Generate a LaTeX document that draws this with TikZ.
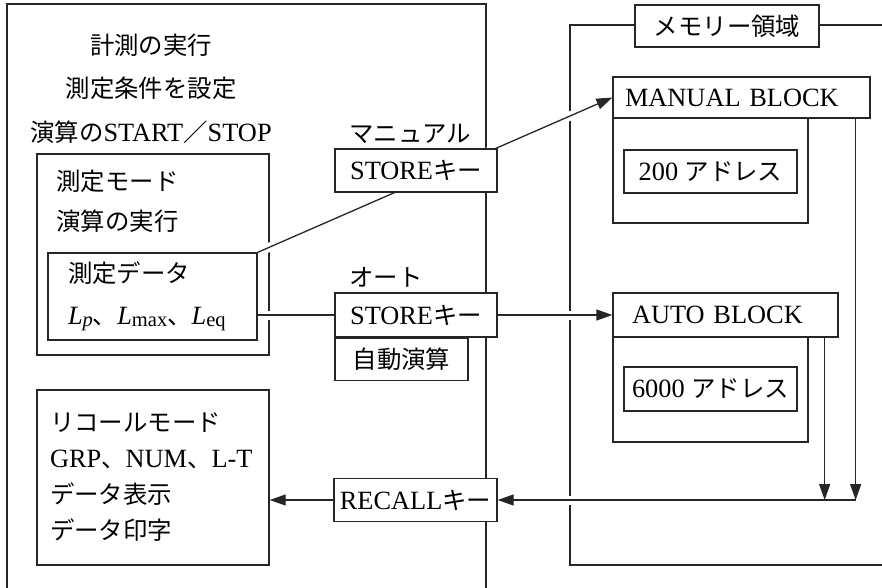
\documentclass[tikz,border=0pt]{standalone}
\usepackage{fontspec}
\setmainfont{Liberation Serif}[Scale=1.08]
\newfontfamily\jpfont{Noto Sans CJK JP}
\newcommand{\jp}[1]{{\jpfont #1}}
\newcommand{\Lsub}[1]{\textit{L}\raisebox{-1.5pt}{\fontsize{19}{19}\selectfont #1}}
\usetikzlibrary{positioning, arrows.meta, calc}

\begin{document}
\begin{tikzpicture}[
    x=1pt, y=-1pt,
    every node/.style={font=\fontsize{24.4}{29}\selectfont, inner sep=2pt},
    ln/.style={line width=1.3pt, draw=black!85},
    box/.style n args={2}{rectangle, ln, fill=white, minimum width=#1, minimum height=#2},
    arr/.style={-{Triangle[length=16pt, width=11pt]}, ln},
    hop/.style={preaction={draw=white, -, line width=9pt, shorten <=#1, shorten >=17pt}},
]
    \clip (0,0) rectangle (882,587);

    % frames
    \draw[ln] (7,4) rectangle (486,620);
    \draw[ln] (570,25) rectangle (920,565);
    \node[box={184}{42}] (memlbl) at (727,26) {\jp{メモリー領域}};

    % left panel
    \node (head1) at (151,45) {\jp{計測の実行}};
    \node (head2) at (151,88) {\jp{測定条件を設定}};
    \node (head3) at (151,132) {\jp{演算の}START\jp{／}STOP};
    \node[box={232}{201}] (modebox) at (153,254.5) {};
    \node[anchor=west] (modett) at ($(modebox.north west)+(18,28)$) {\jp{測定モード}};
    \node[anchor=west] (modecalc) at ($(modebox.north west)+(18,68)$) {\jp{演算の実行}};
    \node[box={209}{87}, text width=169pt, inner xsep=20pt, align=left,
          font=\fontsize{24.4}{42}\selectfont] (databox) at (152.5,296.5)
          {\jp{測定データ}\\\Lsub{\textit{p}}\jp{、}\Lsub{max}\jp{、}\Lsub{eq}};
    \node[box={232}{175}, text width=206pt, inner xsep=13pt, align=left,
          font=\fontsize{24.4}{36}\selectfont] (recallbox) at (153,477.5)
          {\jp{リコールモード}\\\mbox{GRP\jp{、}NUM\jp{、}L-T}\\\jp{データ表示}\\\jp{データ印字}};

    % memory blocks
    \node[box={195}{105}] (manbody) at (710.5,170.5) {};
    \node[box={173}{43}] (manaddr) at (710.5,171.5) {200 \jp{アドレス}};
    \node[box={257}{41}, text width=233pt, inner xsep=12pt, align=left] (manhead) at (741.5,97.5) {MANUAL BLOCK};
    \node[box={195}{105}] (autobody) at (710.5,389.5) {};
    \node[box={173}{44}] (autoaddr) at (710.5,389) {6000 \jp{アドレス}};
    \node[box={225}{44}, text width=187pt, inner xsep=19pt, align=left] (autohead) at (725.5,315) {AUTO BLOCK};

    % store paths
    \draw[arr, hop=6pt] (databox.north east) -- (manhead.west);
    \draw[arr, hop=6pt] (databox.east |- autohead.west) -- (autohead.west);

    % keys
    \node[box={162}{43}] (storeM) at (416,170.5) {STORE\jp{キー}};
    \node[anchor=south west, xshift=13pt, yshift=3pt] (manlbl) at (storeM.north west) {\jp{マニュアル}};
    \node[box={162}{44}] (storeA) at (416,315) {STORE\jp{キー}};
    \node[anchor=south west, xshift=13pt, yshift=3pt] (autolbl) at (storeA.north west) {\jp{オート}};
    \node[box={133}{42}, anchor=north west] (calcA) at (storeA.south west) {\jp{自動演算}};
    \node[box={163}{43}] (recall) at (415.5,500) {RECALL\jp{キー}};

    % recall paths
    \coordinate (mandrop) at ($(manhead.south east)+(-15,0)$);
    \coordinate (autodrop) at ($(autohead.south east)+(-14,0)$);
    \draw[arr, hop=40pt] (mandrop |- recall.east) -- (recall.east);
    \draw[arr] (mandrop) -- (mandrop |- recall.east);
    \draw[arr] (autodrop) -- (autodrop |- recall.east);
    \draw[arr] (recall.west) -- (recall.west -| recallbox.east);
\end{tikzpicture}
\end{document}
